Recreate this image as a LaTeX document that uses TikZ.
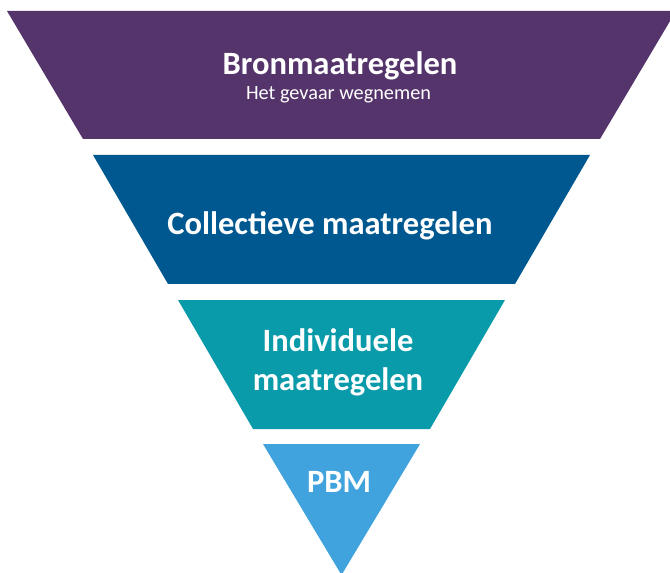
\documentclass[tikz,border=0pt]{standalone}
\usepackage{fontspec}
\setmainfont{Carlito}
\usepackage{xcolor}
\definecolor{colorBron}{RGB}{85,52,107}
\definecolor{colorCollectief}{RGB}{0,88,145}
\definecolor{colorIndividueel}{RGB}{10,155,170}
\definecolor{colorPBM}{RGB}{65,163,221}
\usepackage{tikz}
\tikzset{band title/.style={text=white, font=\bfseries\fontsize{24.4}{29}\selectfont, anchor=base, inner sep=0pt}}

\begin{document}
\begin{tikzpicture}[x=0.75pt, y=-0.75pt, band sub/.style={text=white, font=\fontsize{15.2}{18}\selectfont, anchor=base, inner sep=0pt}]
\useasboundingbox (0,0) rectangle (670,573);
\begin{scope}
\clip (0,0) rectangle (670,573);
\fill[colorBron] (7,11) -- (676,11) -- (600,139) -- (83,139) -- cycle;
\fill[colorCollectief] (93,155) -- (590,155) -- (515,284) -- (168,284) -- cycle;
\fill[colorIndividueel] (178,300) -- (505,300) -- (430,429) -- (253,429) -- cycle;
\fill[colorPBM] (263,444) -- (420,444) -- (341.5,575) -- cycle;
\end{scope}
\node[band title] (bron) at (340,75) {Bronmaatregelen};
\node[band sub] (bronsub) at (338.5,100) {Het gevaar wegnemen};
\node[band title] (collectief) at (330,235) {Collectieve maatregelen};
\node[band title] (individueel) at (338,351) {Individuele};
\node[band title] (individueel2) at (338,390) {maatregelen};
\node[band title] (pbm) at (339,492) {PBM};
\end{tikzpicture}
\end{document}
